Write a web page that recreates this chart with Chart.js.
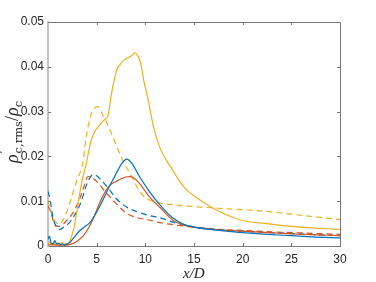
<!DOCTYPE html>
<html>
<head>
<meta charset="utf-8">
<script src="https://cdn.jsdelivr.net/npm/chart.js@4"></script>
<style>
  html, body { margin: 0; padding: 0; background: #fff; }
  #wrap { position: relative; width: 376px; height: 282px; }
  #xlab { position: absolute; left: 183px; top: 265px; font: italic 15px "Liberation Serif", serif; color: #262626; line-height: 16px; }
  #ylab { position: absolute; left: 0; top: 0; width: 100px; height: 22px; line-height: 22px; text-align: center;
          transform: translate(-42px, 121px) rotate(-90deg);
          font: 18px "Liberation Serif", serif; color: #262626; white-space: nowrap; }
  #ylab .ss { display: inline-block; vertical-align: -4px; line-height: 9px; font: 11.5px "DejaVu Serif", serif; text-align: left; margin-left: 1px; }
  #ylab .ss span { display: block; }
  #ylab sub { font: 11.5px "DejaVu Serif", serif; vertical-align: -4px; line-height: 0; }
</style>
</head>
<body>
<div id="wrap">
  <canvas id="chart" width="376" height="282"></canvas>
  <div id="xlab">x/D</div>
  <div id="ylab"><i>ρ</i><span class="ss"><span>′</span><span>c,rms</span></span>/<i>ρ</i><sub>c</sub></div>
</div>
<script>
// axis ticks
const xTicks = [0, 5, 10, 15, 20, 25, 30];
const yTicks = [0, 0.01, 0.02, 0.03, 0.04, 0.05];
const yTickLabels = ['0', '0.01', '0.02', '0.03', '0.04', '0.05'];

// yellow solid
const yelSolidX = [0,0.2,0.4,0.6,0.8,1,1.2,1.4,1.6,1.8,2,2.3,2.7,3.1,3.4,3.7,3.9,4.4,4.8,5.3,5.8,6.15,6.5,6.8,7.1,7.4,7.8,8.2,8.6,8.9,9.2,9.5,9.9,10.3,10.8,11.2,11.6,12.2,12.8,13.5,14.2,15,16,17.6,20,22.5,25,27.5,30];
const yelSolidY = [0.0003,0.0009,0.0002,0.0008,0.0003,0.0007,0.0002,0.0008,0.0003,0.0006,0.0004,0.0014,0.0044,0.0096,0.0135,0.0165,0.0181,0.0233,0.0255,0.027,0.0282,0.029,0.0337,0.037,0.0395,0.0405,0.0415,0.042,0.0425,0.0431,0.0425,0.041,0.0363,0.0325,0.027,0.0238,0.0214,0.019,0.017,0.0145,0.0126,0.0112,0.0097,0.0077,0.0057,0.005,0.0044,0.004,0.0037];

// yellow dashed
const yelDashX = [0,0.3,0.6,0.85,1.1,1.35,1.9,2.55,3.0,3.4,3.6,3.9,4.4,4.8,5.1,5.5,6.0,6.5,7.0,7.4,7.9,8.4,9,9.4,10,10.5,11.5,12.8,14,15,17,20,22.5,25,27.5,30];
const yelDashY = [0.0102,0.0075,0.006,0.0052,0.0048,0.0052,0.0074,0.0118,0.0148,0.017,0.0188,0.024,0.0292,0.0308,0.0311,0.0298,0.0277,0.0252,0.0226,0.0205,0.0181,0.0163,0.0138,0.0122,0.0108,0.0102,0.0096,0.0092,0.009,0.0088,0.0085,0.0081,0.0077,0.0071,0.0065,0.0059];

// blue solid
const bluSolidX = [0,0.15,0.3,0.5,0.7,0.9,1.1,1.3,1.5,1.7,1.9,2.2,2.7,3.2,3.7,4.3,4.8,5.3,5.8,6.3,6.8,7.2,7.6,8.1,8.6,9.4,10.4,11.5,12.8,14,15,17,20,22.5,25,27.5,30];
const bluSolidY = [0.0015,0.0022,0.0008,0.0005,0.0012,0.0004,0.0006,0.0003,0.0005,0.0002,0.0004,0.0007,0.002,0.0033,0.0042,0.0052,0.0068,0.0088,0.011,0.0133,0.0153,0.017,0.0185,0.0194,0.0185,0.0155,0.0122,0.0092,0.0063,0.0048,0.0042,0.0036,0.003,0.0026,0.0023,0.002,0.0018];

// blue dashed
const bluDashX = [0,0.2,0.5,0.8,1.2,1.6,2.2,2.7,3.2,3.6,3.9,4.3,4.6,5,5.5,6.3,7,8,9.2,10.4,11.5,13,15,17.5,20,22.5,25,27.5,30];
const bluDashY = [0.0122,0.0105,0.0065,0.0045,0.0037,0.0042,0.0052,0.0068,0.0088,0.0112,0.0133,0.0152,0.0159,0.0157,0.0146,0.0126,0.0106,0.0088,0.0076,0.0068,0.0063,0.0052,0.0043,0.0037,0.0033,0.003,0.0028,0.0025,0.0023];

// red solid
const redSolidX = [0,0.5,1,1.5,2,2.2,2.6,3,3.6,4.1,4.6,5.3,6,6.5,7,7.5,8,8.4,8.8,9.4,10.4,11.5,13,15,17.5,20,22.5,25,27.5,30];
const redSolidY = [0.0002,0.0003,0.0002,0.0002,0.0002,0.0003,0.0006,0.0011,0.0022,0.0038,0.0059,0.0096,0.0126,0.0138,0.0144,0.015,0.0154,0.0155,0.0152,0.014,0.011,0.0086,0.0055,0.0042,0.0036,0.0033,0.003,0.0027,0.0025,0.0023];

// red dashed
const redDashX = [0,0.3,0.6,1,1.4,2,2.5,2.9,3.3,3.6,4.1,4.6,5.3,6,6.65,7.3,8,9.2,10.4,11.5,13,15,17.5,20,22.5,25,27.5,30];
const redDashY = [0.009,0.0075,0.0052,0.0044,0.0046,0.0059,0.0072,0.0088,0.0108,0.0126,0.0155,0.0152,0.0137,0.0118,0.0103,0.0088,0.0074,0.0063,0.0058,0.0052,0.0047,0.0042,0.0037,0.0035,0.0032,0.003,0.0028,0.0026];

const BLUE = '#0072BD', RED = '#D95319', YELLOW = '#EDB120';

function toPoints(xs, ys) {
    return xs.map((x, i) => ({ x: x, y: ys[i] }));
}

function series(xs, ys, color, dashed) {
    return {
        data: toPoints(xs, ys),
        borderColor: color,
        borderWidth: 1.2,
        borderDash: dashed ? [6, 4] : [],
        pointRadius: 0,
        fill: false,
        cubicInterpolationMode: 'monotone'
    };
}

// box on top/right plus inward tick marks, like the matlab axes
const boxPlugin = {
    id: 'box',
    afterDraw(chart) {
        const ctx = chart.ctx;
        const a = chart.chartArea;
        const xs = chart.scales.x, ys = chart.scales.y;
        ctx.save();
        ctx.strokeStyle = '#777';
        ctx.lineWidth = 1;
        ctx.beginPath();
        ctx.moveTo(a.left, a.top + 0.5);
        ctx.lineTo(a.right + 0.5, a.top + 0.5);
        ctx.lineTo(a.right + 0.5, a.bottom);
        ctx.stroke();
        ctx.beginPath();
        xTicks.forEach(v => {
            if (v === xTicks[0] || v === xTicks[xTicks.length - 1]) return;
            const px = Math.round(xs.getPixelForValue(v)) + 0.5;
            ctx.moveTo(px, a.top); ctx.lineTo(px, a.top + 3);
            ctx.moveTo(px, a.bottom); ctx.lineTo(px, a.bottom - 3);
        });
        yTicks.forEach(v => {
            if (v === yTicks[0] || v === yTicks[yTicks.length - 1]) return;
            const py = Math.round(ys.getPixelForValue(v)) + 0.5;
            ctx.moveTo(a.right, py); ctx.lineTo(a.right - 3, py);
            ctx.moveTo(a.left, py); ctx.lineTo(a.left + 3, py);
        });
        ctx.stroke();
        ctx.restore();
    }
};

new Chart(document.getElementById('chart'), {
    type: 'line',
    data: {
        datasets: [
            series(bluSolidX, bluSolidY, BLUE, false),
            series(redSolidX, redSolidY, RED, false),
            series(yelSolidX, yelSolidY, YELLOW, false),
            series(bluDashX, bluDashY, BLUE, true),
            series(redDashX, redDashY, RED, true),
            series(yelDashX, yelDashY, YELLOW, true)
        ]
    },
    options: {
        responsive: false,
        animation: false,
        layout: { padding: { top: 22, right: 36, left: 0, bottom: 0 } },
        plugins: { legend: { display: false }, tooltip: { enabled: false } },
        scales: {
            x: {
                type: 'linear',
                min: 0, max: 30,
                afterFit: s => { s.height = 36; },
                afterBuildTicks: s => { s.ticks = xTicks.map(v => ({ value: v })); },
                grid: { display: false, drawTicks: false },
                border: { display: true, color: '#777', width: 1 },
                ticks: { padding: 6, color: '#262626', font: { family: 'Liberation Sans', size: 12 }, maxRotation: 0 }
            },
            y: {
                min: 0, max: 0.05,
                afterFit: s => { s.width = 48; },
                afterBuildTicks: s => { s.ticks = yTicks.map(v => ({ value: v })); },
                grid: { display: false, drawTicks: false },
                border: { display: true, color: '#c2c2c2', width: 2 },
                ticks: {
                    padding: 4,
                    color: '#262626',
                    font: { family: 'Liberation Sans', size: 12 },
                    callback: (v) => yTickLabels[yTicks.indexOf(v)]
                }
            }
        }
    },
    plugins: [boxPlugin]
});
</script>
</body>
</html>
